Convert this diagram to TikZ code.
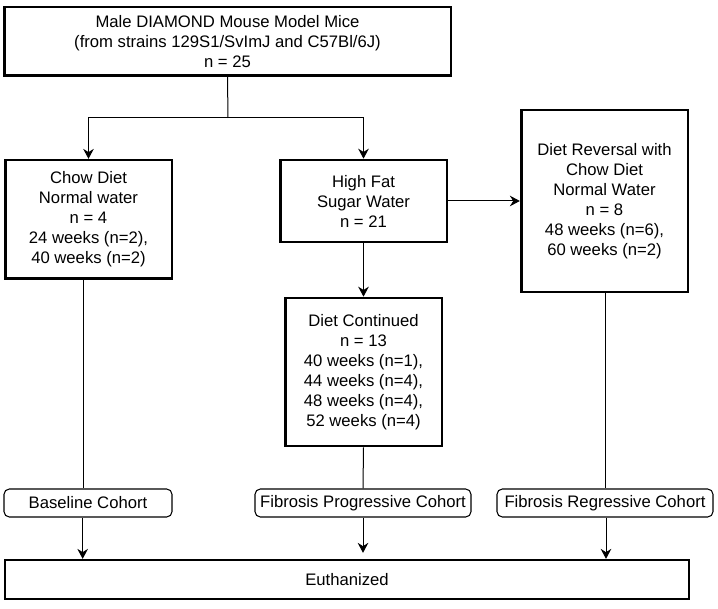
\documentclass[tikz,border=0pt]{standalone}
\usepackage{fontspec}
\setmainfont{Liberation Sans}
\usetikzlibrary{arrows.meta}

\begin{document}
\begin{tikzpicture}[x=0.75pt, y=-0.75pt, >={Stealth[length=7.5pt,width=8pt,inset=2.5pt]},
    mainbox/.style={draw, fill=white, line width=2pt, align=center, inner sep=0pt, font=\fontsize{12.5}{15}\selectfont},
    cohort/.style={draw, fill=white, line width=0.8pt, rounded corners=4pt, inner sep=0pt, minimum height=21pt, font=\fontsize{12.5}{15}\selectfont},
    link/.style={line width=0.75pt}]
    \useasboundingbox (0,0) rectangle (718,609);

    \node[mainbox, minimum width=335pt, minimum height=51.5pt] (mice) at (227.5,41.5) {Male DIAMOND Mouse Model Mice\\(from strains 129S1/SvImJ and C57Bl/6J)\\n = 25};
    \node[mainbox, minimum width=125pt, minimum height=89pt] (chow) at (88.5,219.5) {Chow Diet\\Normal water\\n = 4\\24 weeks (n=2),\\40 weeks (n=2)};
    \node[mainbox, minimum width=125pt, minimum height=61.5pt] (hfd) at (363.5,201) {High Fat\\Sugar Water\\n = 21};
    \node[mainbox, minimum width=125pt, minimum height=136.5pt] (reversal) at (604.5,201) {Diet Reversal with\\Chow Diet\\Normal Water\\n = 8\\48 weeks (n=6),\\60 weeks (n=2)};
    \node[mainbox, minimum width=117.5pt, minimum height=111pt] (continued) at (363.5,372) {Diet Continued\\n = 13\\40 weeks (n=1),\\44 weeks (n=4),\\48 weeks (n=4),\\52 weeks (n=4)};

    \node[cohort, minimum width=126pt] (baseline) at (88,503) {Baseline Cohort};
    \node[cohort, minimum width=162pt] (progressive) at (363,503) {Fibrosis Progressive Cohort};
    \node[cohort, minimum width=162pt] (regressive) at (605,503) {Fibrosis Regressive Cohort};

    \node[mainbox, minimum width=513pt, minimum height=29pt] (euth) at (347,579.5) {Euthanized};

    \coordinate (split) at (228,118);
    \draw[link] (mice.south) -- (split);
    \draw[link,->] (split) -| (chow.north);
    \draw[link,->] (split) -| (hfd.north);
    \draw[link,->] (hfd.east) -- (reversal.west);
    \draw[link,->] (hfd.south) -- (continued.north);

    \draw[link] ([xshift=-4pt]chow.south) -- ([xshift=-4pt]chow.south |- baseline.north);
    \draw[link] (continued.south) -- (progressive.north);
    \draw[link] ([xshift=1pt]reversal.south) -- ([xshift=1pt]reversal.south |- regressive.north);

    \draw[link,->] ([xshift=-4pt]baseline.south) -- ([xshift=-4pt]baseline.south |- euth.north);
    \draw[link,->,shorten >=4.5pt] (progressive.south) -- (progressive.south |- euth.north);
    \draw[link,->] ([xshift=0.75pt]regressive.south) -- ([xshift=0.75pt]regressive.south |- euth.north);
\end{tikzpicture}
\end{document}
